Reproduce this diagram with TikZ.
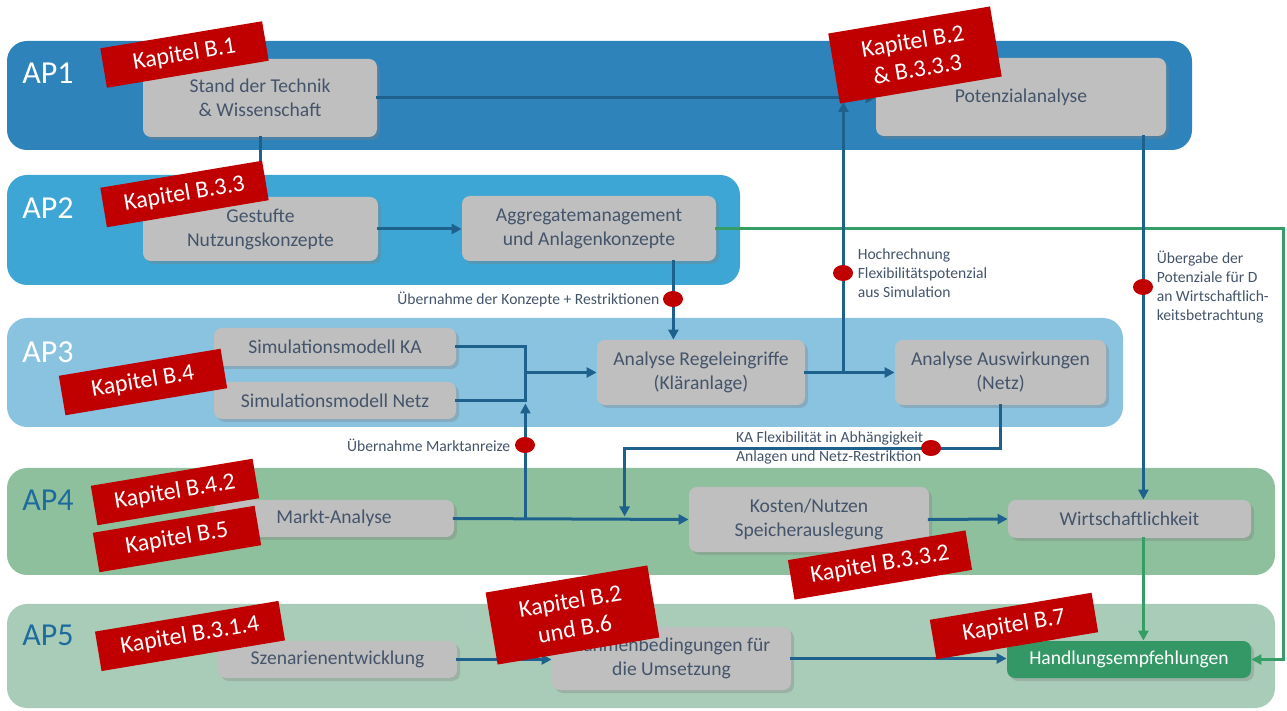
\documentclass[tikz,border=0pt]{standalone}
\usepackage{fontspec}
\setmainfont{Carlito}
\usetikzlibrary{calc,backgrounds,shadows,arrows.meta,shapes.geometric}

\definecolor{apOne}{RGB}{46,131,186}
\definecolor{apTwo}{RGB}{62,166,212}
\definecolor{apThree}{RGB}{138,195,224}
\definecolor{apFour}{RGB}{142,192,158}
\definecolor{apFive}{RGB}{168,204,184}
\definecolor{apDark}{RGB}{30,108,158}
\definecolor{taskGray}{RGB}{191,191,191}
\definecolor{taskText}{RGB}{68,84,106}
\definecolor{flowBlue}{RGB}{31,97,141}
\definecolor{flowGreen}{RGB}{52,158,102}
\definecolor{handGreen}{RGB}{51,152,101}
\definecolor{tagRed}{RGB}{192,0,0}

\begin{document}
\begin{tikzpicture}[>={Triangle[length=5pt,width=5pt]}, x=0.5pt, y=-0.5pt]

  \tikzstyle{task} = [rectangle, rounded corners=4pt, fill=taskGray, text=taskText, align=center, inner sep=0pt, font={\fontsize{9.8pt}{12pt}\selectfont}, drop shadow={shadow xshift=1.5pt, shadow yshift=-1.5pt, opacity=0.35}]
  \tikzstyle{chapterTag} = [fill=tagRed, text=white, rotate=9.5, align=center, inner sep=0pt, minimum width=82pt, minimum height=20pt, font={\fontsize{12pt}{14pt}\selectfont}]
  \tikzstyle{apBand} = [rounded corners=10pt]
  \tikzstyle{apLabel} = [anchor=west, inner sep=0pt, font={\fontsize{16pt}{19pt}\selectfont}]
  \tikzstyle{handoverDot} = [ellipse, fill=tagRed, minimum width=10pt, minimum height=8pt, inner sep=0pt]
  \tikzstyle{flowNote} = [text=taskText, align=left, inner sep=0pt, font={\fontsize{7.8pt}{9.5pt}\selectfont}]
  \tikzstyle{flowEdgePortion} = [flowBlue, line width=1.5pt, line cap=rect];
  \tikzstyle{flowEdge} = [flowEdgePortion,->];
  \tikzstyle{greenEdgePortion} = [flowGreen, line width=1.5pt, line cap=rect];
  \tikzstyle{greenEdge} = [greenEdgePortion,->];

  \useasboundingbox (0,0) rectangle (1287,711);

  \node[apLabel, text=white, name=apOneLabel] at (22,73) {AP1};
  \node[apLabel, text=white, name=apTwoLabel] at (22,208) {AP2};
  \node[apLabel, text=white, name=apThreeLabel] at (22,352) {AP3};
  \node[apLabel, text=apDark, name=apFourLabel] at (22,500) {AP4};
  \node[apLabel, text=apDark, name=apFiveLabel] at (22,635) {AP5};

  \node[task, name=stand, minimum width=117pt, minimum height=39pt] at (260,98) {Stand der Technik\\\& Wissenschaft};
  \node[task, name=potenzial, minimum width=145pt, minimum height=39pt] at (1021,97) {Potenzialanalyse};
  \node[task, name=gestuft, minimum width=117.5pt, minimum height=32pt] at (260.5,229) {Gestufte\\Nutzungskonzepte};
  \node[task, name=aggregat, minimum width=127pt, minimum height=32.5pt] at (589,228.5) {Aggregatemanagement\\und Anlagenkonzepte};
  \node[task, name=simKA, minimum width=121pt, minimum height=19pt] at (335,347) {Simulationsmodell KA};
  \node[task, name=simNetz, minimum width=121pt, minimum height=18.5pt] at (335,400.5) {Simulationsmodell Netz};
  \node[task, name=regel, minimum width=104pt, minimum height=32.5pt] at (701,372.5) {Analyse Regeleingriffe\\(Kläranlage)};
  \node[task, name=auswirk, minimum width=105.5pt, minimum height=32.5pt] at (1000.5,372.5) {Analyse Auswirkungen\\(Netz)};
  \node[task, name=markt, minimum width=120pt, minimum height=18.5pt] at (334,518.5) {Markt-Analyse};
  \node[task, name=kosten, minimum width=120pt, minimum height=32.5pt] at (809,519.5) {Kosten/Nutzen\\Speicherauslegung};
  \node[task, name=wirtsch, minimum width=121.5pt, minimum height=19pt] at (1129.5,519) {Wirtschaftlichkeit};
  \node[task, name=szenario, minimum width=119.5pt, minimum height=18.5pt] at (337.5,659.5) {Szenarienentwicklung};
  \node[task, name=rahmen, minimum width=119.5pt, minimum height=31.5pt] at (671.5,658.5) {Rahmenbedingungen für\\die Umsetzung};
  \node[task, name=handlung, fill=handGreen, text=white, minimum width=122pt, minimum height=18.5pt] at (1129,659.5) {Handlungsempfehlungen};

  % Aggregatemanagement goes on to the Handlungsempfehlungen (green, round the right side)
  \coordinate (greenA) at ($(aggregat.east -| handlung.east) + (32,0)$);
  \draw (aggregat.east) edge[greenEdgePortion] (greenA);
  \draw (greenA) edge[greenEdgePortion] (greenA |- handlung.east);
  \draw (greenA |- handlung.east) edge[greenEdge] (handlung.east);

  % Stand der Technik feeds the Potenzialanalyse and the Nutzungskonzepte
  \draw (stand.east) edge[flowEdge] (stand.east -| potenzial.west);
  \draw (stand.south) edge[flowEdge] (stand.south |- gestuft.north);

  % Nutzungskonzepte lead to Aggregatemanagement
  \draw (gestuft.east) edge[flowEdge] (gestuft.east -| aggregat.west);

  % Konzepte and Restriktionen go down to the Regeleingriffe
  \coordinate (aggDrop) at ($(aggregat.south east) + (-43,0)$);
  \draw (aggDrop) edge[flowEdge] (aggDrop |- regel.north);

  % Both simulation models join and go into the Regeleingriffe
  \coordinate (simJoinA) at ($(simKA.east) + (69,0)$);
  \coordinate (simJoinB) at (simJoinA |- simNetz.east);
  \draw (simKA.east) edge[flowEdgePortion] (simJoinA);
  \draw (simJoinA) edge[flowEdgePortion] (simJoinB);
  \draw (simNetz.east) edge[flowEdgePortion] (simJoinB);
  \draw (simJoinA |- regel.west) edge[flowEdge] (regel.west);

  % Regeleingriffe lead to Auswirkungen, and back up to the Potenzialanalyse
  \coordinate (regelSplit) at ($(regel.east) + (38,0)$);
  \coordinate (hochTop) at ($(regelSplit |- stand.east) + (0,4)$);
  \draw (regel.east) edge[flowEdge] (auswirk.west);
  \draw (regelSplit) edge[flowEdge] (hochTop);

  % Markt-Analyse feeds Kosten/Nutzen and the simulation models
  \coordinate (marktJoin) at (simJoinA |- markt.east);
  \draw (markt.east) edge[flowEdge] (kosten.west);
  \draw (marktJoin) edge[flowEdge] ($(simJoinB) + (0,3)$);

  % Auswirkungen come back to the Kosten/Nutzen line
  \coordinate (flexA) at ($(auswirk.south) + (0,43)$);
  \coordinate (flexB) at ($(flexA -| kosten.west) + (-64,0)$);
  \draw (auswirk.south) edge[flowEdgePortion] (flexA);
  \draw (flexA) edge[flowEdgePortion] (flexB);
  \draw (flexB) edge[flowEdge] ($(flexB |- kosten.west) + (0,-3)$);

  % Kosten/Nutzen leads to Wirtschaftlichkeit
  \draw (kosten.east) edge[flowEdge] (wirtsch.west);

  % Potenzialanalyse is handed down to the Wirtschaftlichkeit
  \coordinate (potDrop) at ($(potenzial.south east) + (-23,0)$);
  \draw (potDrop) edge[flowEdge] (potDrop |- wirtsch.north);

  % Wirtschaftlichkeit leads to Handlungsempfehlungen
  \draw (potDrop |- wirtsch.south) edge[greenEdge] (potDrop |- handlung.north);

  % Szenarien and Rahmenbedingungen lead to Handlungsempfehlungen
  \draw (szenario.east) edge[flowEdge] (szenario.east -| rahmen.west);
  \draw (rahmen.east) edge[flowEdge] (rahmen.east -| handlung.west);

  % Hand-over points
  \node[handoverDot, name=dotKonzepte] at (673,299) {};
  \node[flowNote, anchor=east, name=noteKonzepte] at ($(dotKonzepte.west) + (-3,1)$) {Übernahme der Konzepte + Restriktionen};
  \node[handoverDot, name=dotHochrechnung] at (843,273) {};
  \node[flowNote, anchor=west, name=noteHochrechnung] at ($(dotHochrechnung.east) + (4,0)$) {Hochrechnung\\Flexibilitätspotenzial\\aus Simulation};
  \node[handoverDot, name=dotMarkt] at (525,445) {};
  \node[flowNote, anchor=east, name=noteMarkt] at ($(dotMarkt.west) + (-4,0)$) {Übernahme Marktanreize};
  \node[handoverDot, name=dotFlex] at (931,448) {};
  \node[flowNote, anchor=east, name=noteFlex] at ($(dotFlex.west) + (3,0)$) {KA Flexibilität in Abhängigkeit\\Anlagen und Netz-Restriktion};
  \node[handoverDot, name=dotUebergabe] at (1143,287) {};
  \node[flowNote, anchor=west, name=noteUebergabe] at ($(dotUebergabe.east) + (3,0)$) {Übergabe der\\Potenziale für D\\an Wirtschaftlich-\\keitsbetrachtung};

  % Chapter tags on top
  \node[chapterTag, name=tagStand] at (184.5,54.5) {Kapitel B.1};
  \node[chapterTag, name=tagPotenzial, minimum height=35.5pt] at (915,55) {Kapitel B.2\\\& B.3.3.3};
  \node[chapterTag, name=tagGestuft] at (184.5,194) {Kapitel B.3.3};
  \node[chapterTag, name=tagSimulation] at (143,382) {Kapitel B.4};
  \node[chapterTag, name=tagMarktA] at (175,492) {Kapitel B.4.2};
  \node[chapterTag, name=tagMarktB] at (177,539) {Kapitel B.5};
  \node[chapterTag, name=tagSzenario, minimum width=93pt] at (190,636) {Kapitel B.3.1.4};
  \node[chapterTag, name=tagRahmen, minimum height=36.5pt] at (572.5,615) {Kapitel B.2\\und B.6};
  \node[chapterTag, name=tagKosten, minimum width=90pt] at (880,565) {Kapitel B.3.3.2};
  \node[chapterTag, name=tagHandlung] at (1014,626) {Kapitel B.7};

  \begin{scope}[on background layer]
    \fill[apBand, fill=apOne] (7,41) rectangle (1192,150);
    \fill[apBand, fill=apTwo] (7,175) rectangle (740,285);
    \fill[apBand, fill=apThree] (7,318) rectangle (1123,427);
    \fill[apBand, fill=apFour] (7,468) rectangle (1275,575);
    \fill[apBand, fill=apFive] (7,604) rectangle (1275,708);
  \end{scope}

\end{tikzpicture}
\end{document}
